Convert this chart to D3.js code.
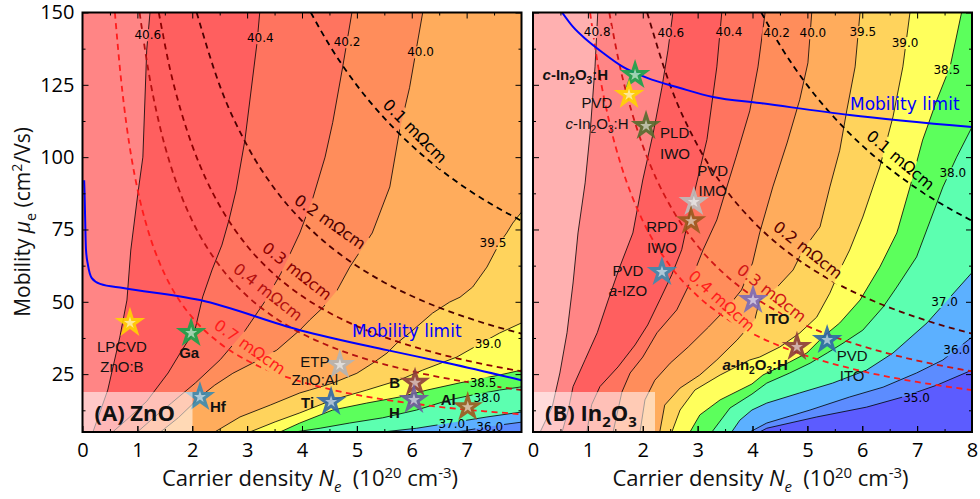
<!DOCTYPE html>
<html>
<head>
<meta charset="utf-8">
<script src="https://cdn.jsdelivr.net/npm/d3@7"></script>
<style>
  body { margin: 0; background: #fff; }
</style>
</head>
<body>
<svg id="chart" width="980" height="499"></svg>
<script>
// ---------- data ----------
// N in 1e20 cm^-3, mobility in cm2/Vs

const levelsA = [40.6, 40.4, 40.2, 40.0, 39.5, 39.0, 38.5, 38.0, 37.0, 36.0];
const contoursA = [
  [[1.23,150],[1.17,137],[1.10,100],[1.01,87.6],[0.88,67.9],[0.81,50.6],[0.68,37.8],[0.46,19.5],[0.19,5]],
  [[3.23,150],[3.18,139.5],[2.96,105.9],[2.80,88.6],[2.67,78.3],[2.54,69.6],[2.36,61.0],[2.19,51.7],[2.05,40.3],[1.78,32.3],[1.56,25.4],[1.17,15.6],[0.85,10],[0.55,5]],
  [[4.91,150],[4.74,131],[4.56,112],[4.42,100],[4.20,86],[3.96,73.8],[3.62,60],[3.32,50],[2.96,40],[2.51,30],[2.06,22],[1.62,15],[1.30,10],[1.00,5]],
  [[6.20,150],[5.96,124],[5.78,109.4],[5.60,89.7],[5.28,73.8],[4.87,62],[4.64,54],[4.38,48],[4.14,43.7],[3.96,40.2],[3.54,33.3],[3.10,28.8],[2.74,25.3],[2.41,21.2],[2.14,17.1],[1.75,10],[1.42,5]],
  [[8.0,81.0],[7.84,77.2],[7.73,73.8],[7.60,70.3],[7.37,62.0],[7.11,55.1],[6.88,51.6],[6.69,49.9],[6.38,46.1],[6.02,40.2],[5.73,35.7],[5.55,32.3],[5.29,28.8],[5.00,25.3],[4.56,21.9],[4.14,19.5],[3.96,18.5],[3.42,14.3],[2.87,10.2],[2.41,5]],
  [[8.0,42.7],[7.60,39.2],[7.37,36.8],[6.82,30.9],[6.20,26.4],[5.78,23.0],[5.18,19.5],[4.56,16.1],[3.96,11.6],[3.51,8.5],[3.05,5]],
  [[8.0,26.4],[7.60,24.7],[6.88,22.0],[6.28,19.5],[5.78,17.1],[5.18,15.0],[4.56,12.6],[3.96,8.1],[3.60,5]],
  [[8.0,20.6],[7.60,19.5],[7.11,17.8],[6.69,16.1],[6.09,12.6],[5.47,9.9],[4.87,8.1],[4.33,6.3],[3.87,5]],
  [[8.0,11.9],[7.37,10.2],[6.69,8.1],[6.09,6.3],[5.47,5]],
  [[8.0,8.4],[7.60,7.4],[7.00,5.6],[6.78,5]]
];

const levelsB = [40.8, 40.6, 40.4, 40.2, 40.0, 39.5, 39.0, 38.5, 38.0, 37.0, 36.0, 35.0];
const contoursB = [
  [[1.18,150],[1.13,131.2],[1.04,108.3],[0.95,91.1],[0.82,73.8],[0.73,56.5],[0.62,39.3],[0.49,25.4],[0.35,13.7],[0.13,5]],
  [[2.55,150],[2.46,137],[2.35,124.2],[2.19,108.3],[2.00,92.1],[1.82,73.8],[1.58,62.0],[1.37,50.6],[1.17,39.3],[0.95,30.0],[0.73,20.7],[0.64,12.4],[0.53,5]],
  [[3.44,150],[3.35,131.2],[3.17,106.1],[2.91,85.3],[2.71,68.0],[2.53,59.4],[2.31,50.6],[2.09,42.0],[1.86,35.1],[1.55,27.5],[1.22,20.7],[1.07,14.5],[0.98,5]],
  [[4.23,150],[4.10,131.2],[3.95,116],[3.70,100],[3.46,85.2],[3.35,78.3],[3.10,68],[2.86,56.5],[2.62,47.2],[2.26,39.3],[2.00,30.9],[1.77,25.4],[1.62,18.8],[1.46,5]],
  [[5.08,150],[5.01,132.6],[4.86,119.8],[4.63,104.9],[4.37,89.7],[4.13,73.8],[4.00,63.4],[3.80,54.1],[3.55,48.2],[3.20,41.3],[2.83,34.4],[2.50,28.8],[2.22,22.9],[2.04,16.1],[1.95,5]],
  [[5.96,150],[5.87,131.2],[5.72,116.3],[5.59,102.4],[5.41,89.7],[5.23,75.9],[4.92,67.9],[4.74,61.0],[4.45,55.1],[4.13,50.6],[4.04,43.7],[3.72,36.8],[3.35,29.9],[3.04,24.7],[2.68,20.2],[2.40,14.3],[2.31,5]],
  [[6.87,150],[6.74,131.2],[6.56,113.9],[6.32,96.6],[6.01,79.3],[5.77,67.9],[5.59,61.0],[5.41,53.0],[5.17,44.7],[4.86,39.2],[4.50,34.4],[4.13,30.9],[3.95,29.9],[3.41,24.7],[2.95,19.5],[2.68,12.6],[2.53,5]],
  [[7.81,150],[7.60,131.2],[7.36,119.8],[7.10,105.9],[6.87,89.7],[6.63,73.8],[6.32,62.0],[5.96,50.6],[5.59,42.7],[5.28,37.8],[4.99,32.3],[4.68,29.2],[4.19,24.7],[3.99,21.6],[3.41,16.1],[3.04,10.9],[2.86,5]],
  [[8.0,110.4],[7.72,100.0],[7.47,89.7],[7.23,77.6],[6.99,65.5],[6.63,55.1],[6.38,48.2],[6.01,40.2],[5.65,35.7],[5.36,32.3],[5.05,28.8],[4.68,25.4],[4.26,21.9],[3.99,18.1],[3.59,13.3],[3.26,5]],
  [[8.0,60.1],[7.60,51.6],[7.18,42.7],[6.56,32.3],[6.08,26.4],[5.46,21.9],[4.86,18.5],[4.26,15.0],[3.99,12.6],[3.77,9.1],[3.62,5]],
  [[8.0,37.8],[7.47,29.9],[6.99,25.4],[6.38,20.5],[5.77,17.1],[5.05,12.6],[4.26,8.1],[3.95,5]],
  [[8.0,26.4],[7.36,21.2],[6.74,17.1],[6.08,13.6],[5.17,10.2],[4.26,6.3],[4.13,5]]
];

// iso-resistivity curves (mOhm cm)
const rhoLevels = [0.1, 0.2, 0.3, 0.4, 0.7];
const rhoCurves = [
  [[4.16,150],[4.5,138.7],[5,124.8],[5.5,113.5],[6,104],[6.5,96],[7,89.1],[7.5,83.2],[8,78]],
  [[2.08,150],[2.5,124.8],[3,104],[3.5,89.1],[4,78],[4.5,69.3],[5,62.4],[5.5,56.7],[6,52],[6.5,48],[7,44.6],[7.5,41.6],[8,39]],
  [[1.39,150],[1.6,130],[1.8,115.6],[2,104],[2.25,92.4],[2.5,83.2],[3,69.3],[3.5,59.4],[4,52],[4.5,46.2],[5,41.6],[5.5,37.8],[6,34.7],[6.5,32],[7,29.7],[7.5,27.7],[8,26]],
  [[1.04,150],[1.2,130],[1.4,111.4],[1.6,97.5],[1.8,86.7],[2,78],[2.5,62.4],[3,52],[3.5,44.6],[4,39],[4.5,34.7],[5,31.2],[5.5,28.4],[6,26],[6.5,24],[7,22.3],[7.5,20.8],[8,19.5]],
  [[0.59,150],[0.7,127.3],[0.8,111.4],[0.9,99],[1,89.1],[1.2,74.3],[1.4,63.7],[1.6,55.7],[1.8,49.5],[2,44.6],[2.5,35.7],[3,29.7],[3.5,25.5],[4,22.3],[4.5,19.8],[5,17.8],[5.5,16.2],[6,14.9],[6.5,13.7],[7,12.7],[7.5,11.9],[8,11.1]]
];
const rhoInA = [0.1, 0.2, 0.3, 0.4, 0.7];
const rhoInB = [0.1, 0.2, 0.3, 0.4];

const mobilityA = [[0.03,92],[0.036,88.6],[0.064,67.9],[0.10,62.7],[0.17,58.2],[0.32,56.2],[0.74,54.8],[2.14,50.6],[3.96,40.2],[5.55,33.3],[6.69,28.7],[8.0,22.9]];
const mobilityB = [[0.53,150],[0.73,145],[0.98,140.5],[1.28,136],[1.64,131.2],[2.08,127.4],[2.68,123.9],[3.28,120.8],[4.13,118.7],[5.77,114.6],[8.0,110.4]];

const starsA = [["LPCVD ZnO:B",0.865,42.7],["Ga",1.98,39.2],["Hf",2.14,17.1],["ETP ZnO:Al",4.69,28.2],["Ti",4.53,15.4],["B",6.06,22.0],["H",6.04,16.1],["Al",7.02,13.6]];
const starsB = [["c-In2O3:H",1.86,128.4],["PVD c-In2O3:H",1.75,121.5],["PLD IWO",2.06,110.8],["PVD IMO",2.93,84.5],["RPD IWO",2.88,77.9],["PVD a-IZO",2.35,60.3],["ITO",4.01,50.6],["a-In2O3:H",4.81,34.4],["PVD ITO",5.36,36.8]];

const xTicksA = [0,1,2,3,4,5,6,7];
const xTicksB = [0,1,2,3,4,5,6,7,8];
const yTicks = [25,50,75,100,125,150];

// ---------- styles / layout ----------
const bandColors = {
  40.8: "#ff8585", 40.6: "#ff5f5f", 40.4: "#ff745f", 40.2: "#ff8d5b", 40.0: "#ffac5c",
  39.5: "#ffd35c", 39.0: "#ffff5c", 38.5: "#5cff5c", 38.0: "#5cffb0", 37.0: "#5cb0ff",
  36.0: "#5c8cff", 35.0: "#5c5cff"
};
const rhoColorsA = ["#000000", "#4a0000", "#8b0000", "#b31010", "#ff1c1c"];
const rhoColorsB = ["#000000", "#5a0000", "#d01515", "#ff1c1c"];

// contour label anchors [level, N, mu]
const contourLabelsA = [[40.6,1.19,142.2],[40.4,3.24,141.2],[40.2,4.82,139.8],[40.0,6.16,136.3],[39.5,7.48,70.3],[39.0,7.39,35.4],[38.5,7.30,21.9],[38.0,7.37,16.7],[37.0,6.73,7.7],[36.0,7.42,6.7]];
const contourLabelsB = [[40.8,1.17,143.3],[40.6,2.51,142.9],[40.4,3.57,143.3],[40.2,4.44,142.9],[40.0,5.10,142.9],[39.5,6.01,143.3],[39.0,6.78,139.5],[38.5,7.54,130.1],[38.0,7.65,94.5],[37.0,7.50,50.0],[36.0,7.72,33.3],[35.0,6.99,16.7]];
// resistivity label anchors [rho, N, mu, angle]
const rhoLabelsA = [[0.1,6.06,109.0,45],[0.2,4.51,77.6,35],[0.3,3.91,60.6,38],[0.4,3.38,53.4,38],[0.7,3.05,34.4,35]];
const rhoLabelsB = [[0.1,6.70,99.0,40],[0.2,5.01,67.9,38],[0.3,4.35,53.0,38],[0.4,3.44,50.3,42]];

const starColorsA = ["#ffd400","#17a34a","#3b8bb0","#b4b4b4","#2f66a8","#8c3b3b","#6e5a9e","#a0561e"];
const starColorsB = ["#17a34a","#ffd400","#556b2f","#bdbdbd","#9a5a1e","#3b8bb0","#7a6ab8","#8c3b3b","#2f66a8"];

const starTextA = [
  {lines: [[{t:"LPCVD"}],[{t:"ZnO:B"}]], dx:-8, dy:[29,49], anchor:"middle"},
  {lines: [[{t:"Ga"}]], dx:-2, dy:[25], anchor:"middle", bold:true},
  {lines: [[{t:"Hf"}]], dx:10, dy:[15], anchor:"start", bold:true},
  {lines: [[{t:"ETP"}],[{t:"ZnO:Al"}]], dx:-25, dy:[2,20], anchor:"middle"},
  {lines: [[{t:"Ti"}]], dx:-17, dy:[6], anchor:"end", bold:true},
  {lines: [[{t:"B"}]], dx:-15, dy:[5], anchor:"end", bold:true},
  {lines: [[{t:"H"}]], dx:-14, dy:[18], anchor:"end", bold:true},
  {lines: [[{t:"Al"}]], dx:-12, dy:[-2], anchor:"end", bold:true}
];
const in2o3 = pre => [{t:pre,it:true},{t:"-In"},{t:"2",sub:true},{t:"O"},{t:"3",sub:true},{t:":H"}];
const starTextB = [
  {lines: [in2o3("c")], dx:-27, dy:[5], anchor:"end", bold:true},
  {lines: [[{t:"PVD"}], in2o3("c")], dx:-32, dy:[13,34], anchor:"middle"},
  {lines: [[{t:"PLD"}],[{t:"IWO"}]], dx:14, dy:[12,33], anchor:"start"},
  {lines: [[{t:"PVD"}],[{t:"IMO"}]], dx:19, dy:[-26,-6], anchor:"middle"},
  {lines: [[{t:"RPD"}],[{t:"IWO"}]], dx:-29, dy:[11,32], anchor:"middle"},
  {lines: [[{t:"PVD"}],[{t:"a",it:true},{t:"-IZO"}]], dx:-34, dy:[4,24], anchor:"middle"},
  {lines: [[{t:"ITO"}]], dx:24, dy:[24], anchor:"middle", bold:true},
  {lines: [in2o3("a")], dx:-9, dy:[23], anchor:"end", bold:true},
  {lines: [[{t:"PVD"}],[{t:"ITO"}]], dx:25, dy:[21,41], anchor:"middle"}
];

// ---------- chart ----------
const W = 980, H = 499;
const yTop = 12.5, yBottom = 432, plotW = 439;
const svg = d3.select("#chart");
const defs = svg.append("defs");
const y = d3.scaleLinear().domain([5, 150]).range([yBottom, yTop]);

// text with italic / sub / sup runs, shifted with dy so it works everywhere
function rich(sel, segs, size) {
  let shift = 0;
  segs.forEach(s => {
    const ts = sel.append("tspan").text(s.t);
    const target = s.sub ? 0.28 * size : s.sup ? -0.38 * size : 0;
    if (target !== shift) { ts.attr("dy", target - shift); shift = target; }
    if (s.it) ts.attr("font-style", "italic");
    if (s.sub || s.sup) ts.attr("font-size", size * 0.68);
  });
}

function drawPanel(p) {
  const x = d3.scaleLinear().domain([0, 8]).range([p.left, p.left + plotW]);
  const g = svg.append("g");

  defs.append("clipPath").attr("id", "clip" + p.id).append("rect")
    .attr("x", p.left).attr("y", yTop).attr("width", plotW).attr("height", yBottom - yTop);
  const mask = defs.append("mask").attr("id", "mask" + p.id)
    .attr("maskUnits", "userSpaceOnUse").attr("x", 0).attr("y", 0).attr("width", W).attr("height", H);
  mask.append("rect").attr("width", W).attr("height", H).attr("fill", "#fff");

  const plot = g.append("g").attr("clip-path", `url(#clip${p.id})`);
  plot.append("rect").attr("x", p.left).attr("y", yTop)
    .attr("width", plotW).attr("height", yBottom - yTop).attr("fill", p.topColor);

  const line = d3.line().x(d => x(d[0])).y(d => y(d[1]));
  const smooth = d3.line().curve(d3.curveMonotoneX).x(d => x(d[0])).y(d => y(d[1]));

  // filled bands, painted from the highest level down
  p.levels.forEach((lv, i) => {
    const pts = p.contours[i].slice();
    const first = pts[0];
    pts.push([8.5, 4]);
    pts.push(first[1] >= 150 ? [8.5, 152] : [8.5, first[1]]);
    plot.append("path").attr("d", line(pts) + "Z").attr("fill", bandColors[lv]);
  });

  const lines = plot.append("g").attr("mask", `url(#mask${p.id})`);
  p.contours.forEach(c => {
    lines.append("path").attr("d", line(c))
      .attr("fill", "none").attr("stroke", "#000").attr("stroke-width", 0.8);
  });
  p.rho.forEach((r, i) => {
    lines.append("path").attr("d", smooth(rhoCurves[rhoLevels.indexOf(r)]))
      .attr("fill", "none").attr("stroke", p.rhoColors[i])
      .attr("stroke-width", 1.8).attr("stroke-dasharray", "6,4.5");
  });

  plot.append("path").attr("d", smooth(p.mobility))
    .attr("fill", "none").attr("stroke", "#0000ff").attr("stroke-width", 2);

  // labels
  const lab = g.append("g");
  p.contourLabels.forEach(d => {
    const t = lab.append("text")
      .attr("transform", `translate(${x(d[1])},${y(d[2])})`)
      .attr("text-anchor", "middle").attr("dy", "0.35em")
      .attr("font-family", "DejaVu Sans").attr("font-size", 12).attr("fill", "#000")
      .text(d[0].toFixed(1));
    const bb = t.node().getBBox();
    mask.append("rect").attr("transform", t.attr("transform"))
      .attr("x", bb.x - 1).attr("y", bb.y + 1).attr("width", bb.width + 2).attr("height", bb.height - 2)
      .attr("fill", "#000");
  });
  p.rhoLabels.forEach(d => {
    const col = p.rhoColors[p.rho.indexOf(d[0])];
    const t = lab.append("text")
      .attr("transform", `translate(${x(d[1])},${y(d[2])}) rotate(${d[3]})`)
      .attr("text-anchor", "middle").attr("dy", "0.35em")
      .attr("font-family", "DejaVu Sans").attr("font-size", 16).attr("fill", col)
      .text(d[0] + " m\u03A9cm");
    const bb = t.node().getBBox();
    mask.append("rect").attr("transform", t.attr("transform"))
      .attr("x", bb.x - 3).attr("y", bb.y).attr("width", bb.width + 6).attr("height", bb.height)
      .attr("fill", "#000");
  });
  lab.append("text").attr("x", p.mobLabel[0]).attr("y", p.mobLabel[1])
    .attr("font-family", "DejaVu Sans").attr("font-size", 17).attr("fill", "#0000ff")
    .text("Mobility limit");

  // stars
  const star = d3.symbol().type(d3.symbolStar);
  p.stars.forEach((s, i) => {
    const cx = x(s[1]), cy = y(s[2]);
    g.append("path").attr("transform", `translate(${cx},${cy})`)
      .attr("d", star.size(290)()).attr("fill", p.starColors[i]).attr("fill-opacity", 0.9);
    g.append("path").attr("transform", `translate(${cx},${cy})`)
      .attr("d", star.size(45)()).attr("fill", "#fff").attr("fill-opacity", 0.55);
    const info = p.starText[i];
    info.lines.forEach((segs, j) => {
      const t = g.append("text").attr("x", cx + info.dx).attr("y", cy + info.dy[j])
        .attr("text-anchor", info.anchor)
        .attr("font-family", "Liberation Sans").attr("font-size", 15)
        .attr("font-weight", info.bold ? "bold" : "normal").attr("fill", "#111");
      rich(t, segs, 15);
    });
  });

  // panel tag box
  g.append("rect").attr("x", p.left).attr("y", 392).attr("width", p.boxW).attr("height", yBottom - 392)
    .attr("fill", "#fff").attr("fill-opacity", 0.55);
  const tag = g.append("text").attr("x", p.left + 12).attr("y", 421)
    .attr("font-family", "Open Sans").attr("font-size", 22).attr("font-weight", "bold").attr("fill", "#111");
  rich(tag, p.tag, 22);

  // frame
  g.append("rect").attr("x", p.left).attr("y", yTop).attr("width", plotW).attr("height", yBottom - yTop)
    .attr("fill", "none").attr("stroke", "#000").attr("stroke-width", 2);

  // ticks (inward)
  const halves = d3.range(0, 8.01, 0.5).filter(v => v % 1 !== 0);
  const yMinor = [12.5, 37.5, 62.5, 87.5, 112.5, 137.5];
  const noDomain = s => s.select(".domain").remove();
  const axes = g.append("g").attr("font-family", "Open Sans");
  axes.append("g").attr("transform", `translate(0,${yBottom})`)
    .call(d3.axisBottom(x).tickValues(p.xTicks).tickSize(-6).tickPadding(11).tickFormat(d3.format("d")))
    .call(noDomain)
    .call(s => s.selectAll("text").attr("font-size", 20).attr("fill", "#000").attr("font-family", "Open Sans"));
  axes.append("g").attr("transform", `translate(0,${yBottom})`)
    .call(d3.axisBottom(x).tickValues(d3.range(1, 8)).tickSize(-6).tickFormat(""))
    .call(noDomain);
  axes.append("g").attr("transform", `translate(0,${yBottom})`)
    .call(d3.axisBottom(x).tickValues(halves).tickSize(-3).tickFormat("")).call(noDomain);
  axes.append("g").attr("transform", `translate(0,${yTop})`)
    .call(d3.axisTop(x).tickValues(d3.range(1, 8)).tickSize(-6).tickFormat("")).call(noDomain);
  axes.append("g").attr("transform", `translate(0,${yTop})`)
    .call(d3.axisTop(x).tickValues(halves).tickSize(-3).tickFormat("")).call(noDomain);
  axes.append("g").attr("transform", `translate(${p.left},0)`)
    .call(d3.axisLeft(y).tickValues(yTicks).tickSize(-6).tickPadding(8).tickFormat(p.yLabels ? d3.format("d") : ""))
    .call(noDomain)
    .call(s => s.selectAll("text").attr("font-size", 20).attr("fill", "#000").attr("font-family", "Open Sans"));
  axes.append("g").attr("transform", `translate(${p.left},0)`)
    .call(d3.axisLeft(y).tickValues(yMinor).tickSize(-3).tickFormat("")).call(noDomain);
  axes.append("g").attr("transform", `translate(${p.left + plotW},0)`)
    .call(d3.axisRight(y).tickValues(yTicks).tickSize(-6).tickFormat("")).call(noDomain);
  axes.append("g").attr("transform", `translate(${p.left + plotW},0)`)
    .call(d3.axisRight(y).tickValues(yMinor).tickSize(-3).tickFormat("")).call(noDomain);
  axes.selectAll(".tick line").attr("stroke", "#000").attr("stroke-width", 1);

  // x title
  const xt = g.append("text").attr("x", p.left + plotW / 2 + 8).attr("y", 486)
    .attr("text-anchor", "middle").attr("font-family", "Open Sans").attr("font-size", 22).attr("fill", "#111");
  rich(xt, [{t:"Carrier density "},{t:"N",it:true},{t:"e",it:true,sub:true},{t:"\u00a0 (10"},{t:"20",sup:true},{t:" cm"},{t:"-3",sup:true},{t:")"}], 22);
}

drawPanel({
  id: "A", left: 82.5, levels: levelsA, contours: contoursA, topColor: "#ff8585",
  rho: rhoInA, rhoColors: rhoColorsA, rhoLabels: rhoLabelsA, contourLabels: contourLabelsA,
  mobility: mobilityA, mobLabel: [352, 337],
  stars: starsA, starColors: starColorsA, starText: starTextA,
  boxW: 110, tag: [{t:"(A) ZnO"}], xTicks: xTicksA, yLabels: true
});
drawPanel({
  id: "B", left: 533, levels: levelsB, contours: contoursB, topColor: "#ffb0b0",
  rho: rhoInB, rhoColors: rhoColorsB, rhoLabels: rhoLabelsB, contourLabels: contourLabelsB,
  mobility: mobilityB, mobLabel: [850, 110],
  stars: starsB, starColors: starColorsB, starText: starTextB,
  boxW: 122, tag: [{t:"(B) In"},{t:"2",sub:true},{t:"O"},{t:"3",sub:true}], xTicks: xTicksB, yLabels: false
});

// y title
const yt = svg.append("text").attr("transform", "translate(30,222) rotate(-90)")
  .attr("text-anchor", "middle").attr("font-family", "Open Sans").attr("font-size", 21).attr("fill", "#111");
rich(yt, [{t:"Mobility "},{t:"\u03bc",it:true},{t:"e",sub:true},{t:" (cm"},{t:"2",sup:true},{t:"/Vs)"}], 21);
</script>
</body>
</html>
